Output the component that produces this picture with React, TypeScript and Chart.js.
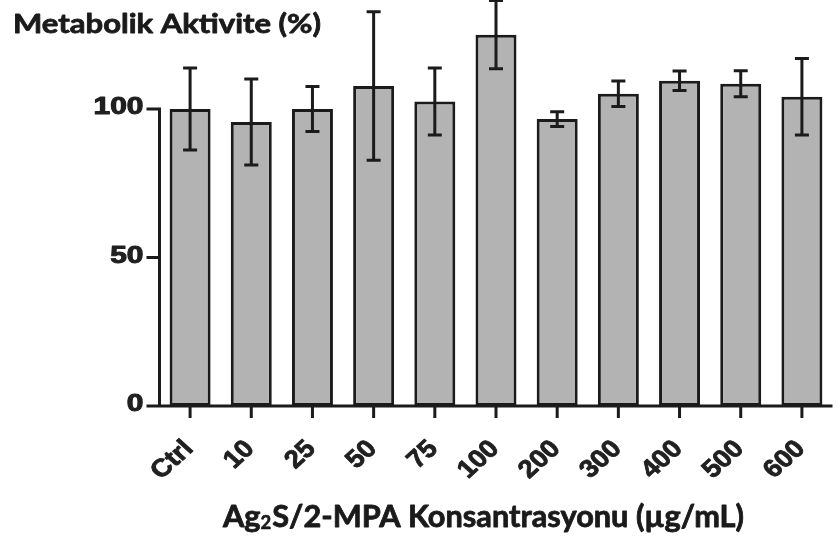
import React, { useEffect, useRef } from "react";
import { Chart, registerables } from "chart.js";

Chart.register(...registerables);

// Ag2S/2-MPA concentrations (µg/mL) and metabolic activity (% of control)
const categories = ["Ctrl", "10", "25", "50", "75", "100", "200", "300", "400", "500", "600"];
const activity = [100, 95.6, 100, 107.7, 102.5, 125, 96.6, 105.1, 109.5, 108.5, 104.1];
const activityErr = [13.8, 14.5, 7.6, 25, 11.3, 11.5, 2.5, 4.3, 3.3, 4.4, 12.9];
const yTickValues = [0, 50, 100];

const yTitle = "Metabolik Aktivite (%)";
const xTitleParts = ["Ag", "2", "S/2-MPA Konsantrasyonu (µg/mL)"];

const INK = "#1b1b1b";
const LABEL = "#202020";

// draws filled text with a thin outline of the same colour for a heavier weight
function heavyText(ctx: CanvasRenderingContext2D, s: string, x: number, y: number, w: number) {
  ctx.lineWidth = w;
  ctx.strokeStyle = ctx.fillStyle as string;
  ctx.lineJoin = "round";
  ctx.strokeText(s, x, y);
  ctx.fillText(s, x, y);
}

const axesAndErrors = {
  id: "axesAndErrors",
  afterDatasetsDraw(chart: any) {
    const { ctx, chartArea } = chart;
    const xs = chart.scales.x;
    const ys = chart.scales.y;
    const x0 = chartArea.left;
    const y0 = ys.getPixelForValue(0);
    const yTop = ys.getPixelForValue(yTickValues[yTickValues.length - 1]);

    ctx.save();
    ctx.strokeStyle = INK;
    ctx.lineWidth = 3;
    ctx.lineCap = "butt";

    // error bars
    activity.forEach((m, i) => {
      const cx = xs.getPixelForValue(i);
      const hi = ys.getPixelForValue(m + activityErr[i]);
      const lo = ys.getPixelForValue(m - activityErr[i]);
      ctx.beginPath();
      ctx.moveTo(cx, hi);
      ctx.lineTo(cx, lo);
      ctx.moveTo(cx - 7, hi);
      ctx.lineTo(cx + 7, hi);
      ctx.moveTo(cx - 7, lo);
      ctx.lineTo(cx + 7, lo);
      ctx.stroke();
    });

    // y axis line and ticks
    ctx.beginPath();
    ctx.moveTo(x0, yTop - 1.5);
    ctx.lineTo(x0, y0 + 1.5);
    yTickValues.forEach((v) => {
      const py = ys.getPixelForValue(v);
      ctx.moveTo(x0 - 13, py);
      ctx.lineTo(x0 + 1.5, py);
    });
    // x axis line and ticks
    ctx.moveTo(x0 - 13, y0);
    ctx.lineTo(chartArea.right, y0);
    categories.forEach((_, i) => {
      const cx = xs.getPixelForValue(i);
      ctx.moveTo(cx, y0);
      ctx.lineTo(cx, y0 + 12);
    });
    ctx.stroke();

    // y tick labels
    ctx.fillStyle = LABEL;
    ctx.font = 'bold 23px "Liberation Sans", Arial, sans-serif';
    ctx.textAlign = "right";
    ctx.textBaseline = "middle";
    yTickValues.forEach((v) => {
      const py = ys.getPixelForValue(v);
      ctx.save();
      ctx.translate(x0 - 16, py - 1);
      ctx.scale(1.3, 1);
      heavyText(ctx, String(v), 0, 0, 1);
      ctx.restore();
    });

    // x tick labels, rotated
    ctx.font = 'bold 25px "Liberation Sans", Arial, sans-serif';
    categories.forEach((c, i) => {
      const cx = xs.getPixelForValue(i);
      ctx.save();
      ctx.translate(cx - 1, y0 + 39);
      ctx.scale(1.1, 1);
      ctx.rotate(-Math.PI / 4);
      heavyText(ctx, c, 0, 0, 0.8);
      ctx.restore();
    });

    // axis titles
    ctx.fillStyle = "#1a1a1a";
    ctx.textAlign = "left";
    ctx.textBaseline = "alphabetic";
    ctx.font = "bold 27px Lato, sans-serif";
    const tw = ctx.measureText(yTitle).width;
    ctx.save();
    ctx.translate(13, 33);
    ctx.scale(308 / tw, 1);
    heavyText(ctx, yTitle, 0, 0, 0.8);
    ctx.restore();

    const big = "bold 30px Lato, sans-serif";
    const small = "bold 18px Lato, sans-serif";
    ctx.font = big;
    const w0 = ctx.measureText(xTitleParts[0]).width;
    const w2 = ctx.measureText(xTitleParts[2]).width;
    ctx.font = small;
    const w1 = ctx.measureText(xTitleParts[1]).width + 1;
    const total = w0 + w1 + w2;
    ctx.save();
    ctx.translate(223, 527);
    ctx.scale(521 / total, 1);
    ctx.font = big;
    heavyText(ctx, xTitleParts[0], 0, 0, 0.8);
    ctx.font = small;
    heavyText(ctx, xTitleParts[1], w0, 2, 0.6);
    ctx.font = big;
    heavyText(ctx, xTitleParts[2], w0 + w1, 0, 0.8);
    ctx.restore();

    ctx.restore();
  },
};

export default function App() {
  const ref = useRef<HTMLCanvasElement | null>(null);

  useEffect(() => {
    if (!ref.current) return;
    const chart = new Chart(ref.current, {
      type: "bar",
      data: {
        labels: categories,
        datasets: [
          {
            data: activity,
            backgroundColor: "#b3b3b3",
            borderColor: INK,
            borderWidth: 3,
            borderSkipped: false,
            barPercentage: 0.67,
            categoryPercentage: 1,
          },
        ],
      },
      options: {
        animation: false,
        responsive: false,
        devicePixelRatio: 1,
        layout: { padding: { top: 5, right: 7.5, left: 0, bottom: 0 } },
        plugins: { legend: { display: false }, tooltip: { enabled: false } },
        scales: {
          x: {
            type: "category",
            offset: true,
            grid: { display: false },
            border: { display: false },
            ticks: { display: false },
            afterFit: (s: any) => {
              s.height = 137;
            },
          },
          y: {
            min: 0,
            max: 135,
            grid: { display: false },
            border: { display: false },
            ticks: { display: false },
            afterFit: (s: any) => {
              s.width = 159.5;
            },
          },
        },
      },
      plugins: [axesAndErrors],
    });
    return () => chart.destroy();
  }, []);

  return (
    <div style={{ position: "fixed", left: 0, top: 0, width: 840, height: 543, background: "#fff" }}>
      <canvas ref={ref} width={840} height={543} />
    </div>
  );
}
